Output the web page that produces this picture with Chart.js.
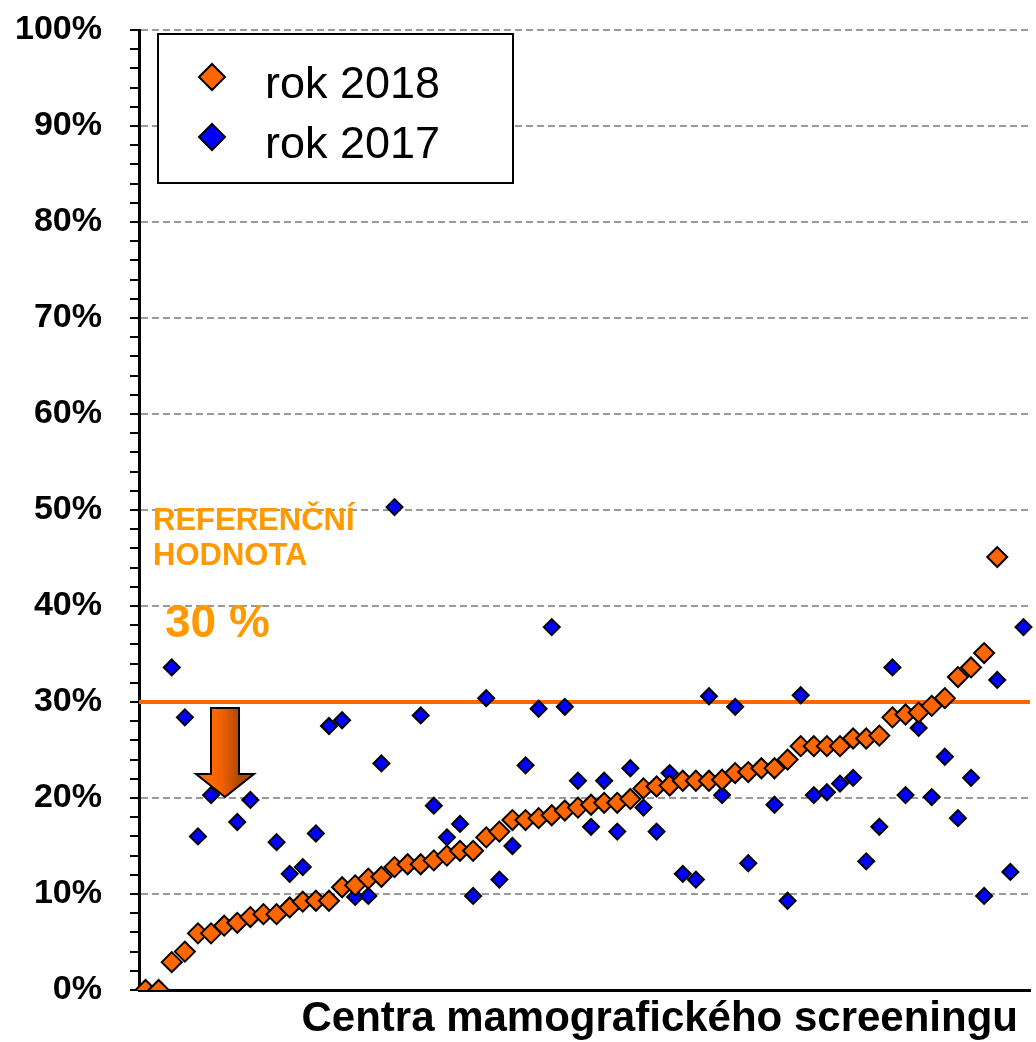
<!DOCTYPE html>
<html>
<head>
<meta charset="utf-8">
<script src="https://cdn.jsdelivr.net/npm/chart.js@4/dist/chart.umd.min.js"></script>
<style>
  html, body { margin: 0; padding: 0; background: #fff; }
  #obal { width: 1036px; height: 1042px; position: relative; }
</style>
</head>
<body>
<div id="obal"><canvas id="graf"></canvas></div>
<script>
// centra (68 pracovišť, bez popisků)
const centra = Array.from({ length: 68 }, (_, i) => String(i + 1));

// podíl v % – rok 2018 (seřazeno vzestupně)
const rok2018 = [0, 0, 2.9, 4.0, 5.9, 5.9, 6.7, 7.0, 7.6, 7.9, 7.9, 8.6, 9.2, 9.3, 9.3, 10.7, 10.9, 11.6, 11.8, 12.8,
  13.1, 13.1, 13.5, 14.0, 14.5, 14.5, 15.9, 16.5, 17.7, 17.7, 17.9, 18.2, 18.7, 19.0, 19.3, 19.5, 19.5, 19.9, 21.0, 21.2,
  21.3, 21.8, 21.8, 21.8, 21.9, 22.6, 22.7, 23.1, 23.1, 24.0, 25.4, 25.4, 25.4, 25.4, 26.2, 26.2, 26.5, 28.4, 28.7, 28.9,
  29.6, 30.4, 32.6, 33.6, 35.1, 45.1, null, null];

// podíl v % – rok 2017
const rok2017 = [null, null, 33.6, 28.4, 16.0, 20.3, null, 17.5, 19.8, null, 15.4, 12.1, 12.8, 16.3, 27.5, 28.1, 9.7, 9.8, 23.6, 50.3,
  null, 28.6, 19.2, 15.9, 17.3, 9.8, 30.4, 11.5, 15.0, 23.4, 29.3, 37.8, 29.5, 21.8, 17.0, 21.8, 16.5, 23.1, 19.0, 16.5,
  22.6, 12.1, 11.5, 30.6, 20.3, 29.5, 13.2, null, 19.3, 9.3, 30.7, 20.3, 20.6, 21.5, 22.1, 13.4, 17.0, 33.6, 20.3, 27.3,
  20.1, 24.3, 17.9, 22.1, 9.8, 32.3, 12.3, 37.8];

const refHodnota = 30;
const osaYMax = 100;

const pismo = '"Liberation Sans", Arial, sans-serif';

function kosoctverec(ctx, x, y, r, barva) {
  ctx.beginPath();
  ctx.moveTo(x - r, y);
  ctx.lineTo(x, y - r);
  ctx.lineTo(x + r, y);
  ctx.lineTo(x, y + r);
  ctx.closePath();
  ctx.fillStyle = barva;
  ctx.fill();
  ctx.lineWidth = 2;
  ctx.strokeStyle = '#000';
  ctx.stroke();
}

const popisky = {
  id: 'popisky',
  beforeDatasetsDraw(chart) {
    const { ctx, chartArea: a, scales: { y } } = chart;
    const refY = y.getPixelForValue(refHodnota);
    ctx.save();

    // text referenční hodnoty
    ctx.fillStyle = '#FF9900';
    ctx.textBaseline = 'alphabetic';
    ctx.textAlign = 'left';
    ctx.font = 'bold 31px ' + pismo;
    ctx.fillText('REFERENČNÍ', a.left + 14, refY - 172);
    ctx.fillText('HODNOTA', a.left + 14, refY - 137);
    ctx.font = 'bold 46px ' + pismo;
    ctx.fillText('30 %', a.left + 26, refY - 65);

    // čára 30 %
    ctx.strokeStyle = '#FF6600';
    ctx.lineWidth = 4;
    ctx.beginPath();
    ctx.moveTo(a.left, refY);
    ctx.lineTo(a.right, refY);
    ctx.stroke();

    // šipka dolů
    const cx = a.left + 86;
    const top = refY + 6;
    const tip = y.getPixelForValue(20) - 1;
    const krk = tip - 23;
    const sh = 14, hl = 29;
    const grad = ctx.createLinearGradient(cx - sh, 0, cx + sh, 0);
    grad.addColorStop(0, '#FF6A00');
    grad.addColorStop(0.4, '#F06000');
    grad.addColorStop(1, '#B04800');
    ctx.beginPath();
    ctx.moveTo(cx - sh, top);
    ctx.lineTo(cx + sh, top);
    ctx.lineTo(cx + sh, krk);
    ctx.lineTo(cx + hl, krk);
    ctx.lineTo(cx, tip);
    ctx.lineTo(cx - hl, krk);
    ctx.lineTo(cx - sh, krk);
    ctx.closePath();
    ctx.fillStyle = grad;
    ctx.fill();
    ctx.lineWidth = 2;
    ctx.strokeStyle = '#000';
    ctx.stroke();
    ctx.restore();
  },
  afterDraw(chart) {
    const { ctx, chartArea: a } = chart;
    ctx.save();
    // legenda
    const lx = a.left + 19, ly = a.top + 4;
    ctx.fillStyle = '#fff';
    ctx.fillRect(lx, ly, 355, 149);
    ctx.lineWidth = 2;
    ctx.strokeStyle = '#000';
    ctx.strokeRect(lx, ly, 355, 149);
    chart.data.datasets.forEach((ds, i) => {
      const my = ly + 43 + i * 60;
      kosoctverec(ctx, lx + 54, my, 13, ds.pointBackgroundColor);
      ctx.fillStyle = '#000';
      ctx.font = '45px ' + pismo;
      ctx.textAlign = 'left';
      ctx.textBaseline = 'alphabetic';
      ctx.fillText(ds.label, lx + 107, my + 21);
    });
    // popis osy x
    ctx.font = 'bold 42px ' + pismo;
    ctx.textAlign = 'right';
    ctx.fillStyle = '#000';
    ctx.fillText('Centra mamografického screeningu', a.right - 12, a.bottom + 41);
    ctx.restore();
  }
};

new Chart(document.getElementById('graf').getContext('2d'), {
  type: 'line',
  data: {
    labels: centra,
    datasets: [
      {
        label: 'rok 2018',
        data: rok2018,
        showLine: false,
        pointStyle: 'rectRot',
        pointRadius: 10,
        pointHoverRadius: 10,
        pointBackgroundColor: '#FF6600',
        pointBorderColor: '#000',
        pointBorderWidth: 2
      },
      {
        label: 'rok 2017',
        data: rok2017,
        showLine: false,
        pointStyle: 'rectRot',
        pointRadius: 8,
        pointHoverRadius: 8,
        pointBackgroundColor: '#0000FF',
        pointBorderColor: '#000',
        pointBorderWidth: 2
      }
    ]
  },
  options: {
    responsive: true,
    maintainAspectRatio: false,
    animation: false,
    layout: { autoPadding: false, padding: { top: 30, right: 6, bottom: 0, left: 0 } },
    plugins: { legend: { display: false }, tooltip: { enabled: false } },
    scales: {
      x: {
        offset: true,
        afterFit(s) { s.height = 52; s.paddingLeft = 0; s.paddingRight = 0; },
        ticks: { display: false },
        grid: { display: false, drawTicks: false },
        border: { color: '#000', width: 3 }
      },
      y: {
        min: 0,
        max: osaYMax,
        afterFit(s) { s.width = 139; s.paddingTop = 0; s.paddingBottom = 0; },
        ticks: {
          stepSize: 2,
          autoSkip: false,
          padding: 28,
          color: '#000',
          font: { family: pismo, size: 34, weight: 'bold' },
          callback: v => (v % 10 === 0 ? v + '%' : '')
        },
        grid: {
          color: c => (c.tick && c.tick.value % 10 === 0 && c.tick.value > 0 ? '#999' : 'rgba(0,0,0,0)'),
          lineWidth: 2,
          tickColor: '#000',
          tickWidth: 2,
          tickLength: 9,
          tickBorderDash: []
        },
        border: { color: '#000', width: 3, dash: [7, 4] }
      }
    }
  },
  plugins: [popisky]
});
</script>
</body>
</html>
